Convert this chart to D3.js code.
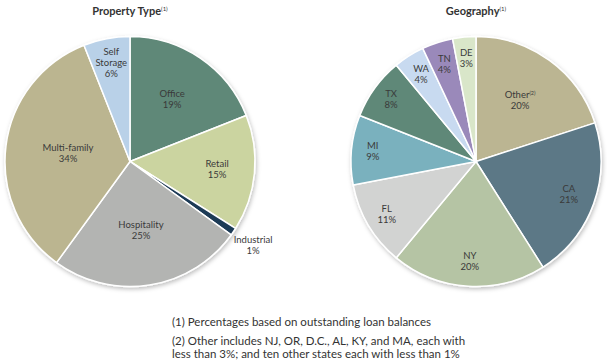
<!DOCTYPE html>
<html><head><meta charset="utf-8">
<script src="https://cdn.jsdelivr.net/npm/d3@7"></script>
<style>
body{margin:0;background:#fff;}
svg{display:block;font-family:Lato,"Open Sans",sans-serif;}
</style></head>
<body><svg id="c" width="607" height="360"></svg>
<script>
// ---- data ----
const propCategories = ["Office","Retail","Industrial","Hospitality","Multi-family","Self Storage"];
const propValues = [19,15,1,25,34,6];
const propColors = ["#5f8878","#cbd4a0","#1e3a56","#b3b4b2","#bbb590","#b9d1e8"];

const geoCategories = ["Other","CA","NY","FL","MI","TX","WA","TN","DE"];
const geoValues = [20,21,20,11,9,8,4,4,3];
const geoColors = ["#bbb592","#5b7886","#b5c4a4","#d2d3d2","#7ab1be","#5f8878","#c8daf0","#9a89ba","#d9e6c9"];

const footnotes = [
  "(1) Percentages based on outstanding loan balances",
  "(2) Other includes NJ, OR, D.C., AL, KY, and MA, each with",
  "less than 3%; and ten other states each with less than 1%"
];

// ---- layout ----
const R = 125;
const svg = d3.select("#c");
const defs = svg.append("defs");
const f = defs.append("filter").attr("id","sh").attr("x","-10%").attr("y","-10%").attr("width","120%").attr("height","120%");
f.append("feDropShadow").attr("dx",1).attr("dy",2).attr("stdDeviation",2).attr("flood-color","#000").attr("flood-opacity",0.25);

function drawPie(cx, cy, title, cats, vals, cols, labelR, supLabel){
  const g = svg.append("g").attr("transform",`translate(${cx},${cy})`);
  const pie = d3.pie().sort(null).value(d=>d.v);
  const data = pie(cats.map((c,i)=>({c, v:vals[i], col:cols[i], lr:labelR[i]})));
  const arc = d3.arc().innerRadius(0).outerRadius(R);
  const pg = g.append("g").attr("filter","url(#sh)");
  pg.selectAll("path").data(data).join("path")
    .attr("d",arc).attr("fill",d=>d.data.col)
    .attr("stroke","#fff").attr("stroke-width",1.5).attr("stroke-linejoin","round");
  const lab = g.selectAll("g.lab").data(data).join("g").attr("class","lab")
    .attr("transform",d=>{
      const a = (d.startAngle+d.endAngle)/2;
      const r = R*d.data.lr;
      return `translate(${r*Math.sin(a)},${-r*Math.cos(a)})`;
    });
  lab.each(function(d){
    const el = d3.select(this);
    const lines = d.data.c==="Multi-family" ? ["Multi-family"] : d.data.c.split(" ");
    const all = lines.concat([d.data.v+"%"]);
    const lh = 11;
    const y0 = -(all.length-1)*lh/2 + 3;
    all.forEach((t,i)=>{
      const tx = el.append("text").attr("text-anchor","middle").attr("y",y0+i*lh)
        .attr("font-size",9.5).attr("fill","#3a3a3a");
      tx.append("tspan").text(t);
      if (i===0 && supLabel===t){
        tx.append("tspan").attr("font-size",5.5).attr("dy",-3.5).text("(2)");
      }
    });
  });
  const tt = svg.append("text").attr("x",cx).attr("y",15).attr("text-anchor","middle")
    .attr("font-size",11).attr("font-weight",700).attr("fill","#333");
  tt.append("tspan").text(title);
  tt.append("tspan").attr("font-size",6).attr("font-weight",400).attr("dy",-4).text("(1)");
}

drawPie(130, 161.5, "Property Type", propCategories, propValues, propColors,
  [0.6,0.7,1.19,0.56,0.5,0.8], null);
drawPie(476, 161.5, "Geography", geoCategories, geoValues, geoColors,
  [0.6,0.79,0.8,0.83,0.83,0.84,0.82,0.82,0.83], "Other");

const fn = svg.append("g").attr("font-size",11.5).attr("fill","#333");
fn.append("text").attr("x",172).attr("y",326).text(footnotes[0]);
fn.append("text").attr("x",172).attr("y",345).text(footnotes[1]);
fn.append("text").attr("x",172).attr("y",358).text(footnotes[2]);
</script></body></html>
